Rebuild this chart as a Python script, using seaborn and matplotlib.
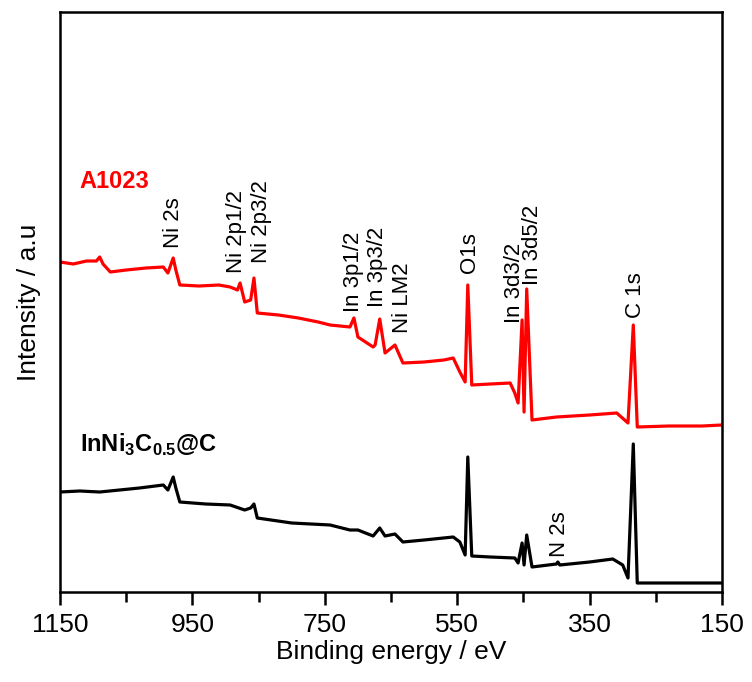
import matplotlib
matplotlib.use("Agg")
import matplotlib.pyplot as plt
import pandas as pd
import seaborn as sns
from matplotlib.ticker import FixedLocator

# survey spectra (binding energy in eV, intensity in arbitrary units)
red_energy = [1150, 1130, 1110, 1095, 1090, 1085, 1074, 1050, 1020, 994, 987, 979, 975, 969,
              940, 910, 893, 882, 878, 871, 862, 857, 852, 820, 790, 760, 742, 712, 706,
              700, 677, 674, 667, 659, 644, 632, 600, 570, 556, 546, 538, 534, 528, 500,
              470, 463, 458, 452, 449, 445, 437, 400, 350, 309, 292, 284, 278, 230, 180, 150]
red_intensity = [338, 336, 339, 339, 343, 336, 328, 330, 332, 333, 327, 342, 330, 315,
                 314, 315, 313, 310, 317, 298, 300, 322, 287, 285, 282, 278, 275, 273, 282,
                 263, 253, 255, 281, 247, 255, 237, 238, 240, 242, 228, 218, 315, 215, 216,
                 217, 207, 197, 280, 188, 311, 180, 183, 185, 187, 177, 275, 173, 174, 174, 175]

black_energy = [1150, 1120, 1090, 1060, 1030, 994, 987, 979, 975, 969, 930, 893, 871, 862,
                857, 852, 800, 742, 712, 700, 677, 667, 659, 644, 632, 600, 556, 546, 538,
                534, 528, 500, 463, 458, 452, 449, 445, 437, 400, 398, 395, 350, 315, 300,
                292, 284, 278, 220, 150]
black_intensity = [108, 109, 108, 110, 112, 115, 110, 123, 112, 98, 96, 95, 90, 92,
                   96, 82, 77, 75, 70, 70, 64, 72, 64, 66, 58, 60, 63, 58, 45,
                   143, 44, 43, 42, 37, 57, 35, 65, 33, 36, 38, 35, 38, 41, 35,
                   22, 156, 17, 17, 17]

# peak assignments: label, energy, height of label foot
peak_labels = ["Ni 2s", "Ni 2p1/2", "Ni 2p3/2", "In 3p1/2", "In 3p3/2", "Ni LM2",
               "O1s", "In 3d3/2", "In 3d5/2", "C 1s", "N 2s"]
peak_energy = [979, 883, 845, 707, 670, 633, 531, 463, 436, 281, 395]
peak_height = [352, 327, 337, 288, 293, 267, 327, 277, 315, 282, 43]

major_ticks = [1150, 950, 750, 550, 350, 150]
minor_ticks = [1050, 850, 650, 450, 250]

red_df = pd.DataFrame({"Binding energy": red_energy, "Intensity": red_intensity})
black_df = pd.DataFrame({"Binding energy": black_energy, "Intensity": black_intensity})

sns.set_style("ticks")
plt.rcParams["font.family"] = ["Liberation Sans", "DejaVu Sans"]
plt.rcParams["mathtext.fontset"] = "custom"
plt.rcParams["mathtext.bf"] = "Liberation Sans:bold"
plt.rcParams["mathtext.rm"] = "Liberation Sans"
plt.rcParams["text.color"] = "black"
plt.rcParams["axes.labelcolor"] = "black"
plt.rcParams["axes.edgecolor"] = "black"
plt.rcParams["xtick.color"] = "black"

fig = plt.figure(figsize=(7.52, 6.82), dpi=100)
ax = fig.add_axes([60 / 752, 90 / 682, 662 / 752, 580 / 682])

sns.lineplot(x="Binding energy", y="Intensity", data=red_df, color="#ff0000",
             linewidth=2.3, estimator=None, sort=False, ax=ax)
sns.lineplot(x="Binding energy", y="Intensity", data=black_df, color="black",
             linewidth=2.3, estimator=None, sort=False, ax=ax)

for label, e, h in zip(peak_labels, peak_energy, peak_height):
    ax.text(e, h, label, rotation=90, ha="center", va="bottom", fontsize=16)

ax.text(1120, 412, "A1023", color="#ff0000", fontsize=17, fontweight="bold",
        va="baseline")
ax.text(1120, 148, r"InNi$_\mathbf{3}$C$_\mathbf{0.5}$@C", color="black",
        fontsize=17, fontweight="bold", va="baseline")

ax.set_xlim(1150, 150)
ax.set_ylim(8, 588)
ax.set_xticks(major_ticks)
ax.xaxis.set_minor_locator(FixedLocator(minor_ticks))
ax.set_yticks([])
ax.tick_params(axis="x", which="major", direction="out", length=9, width=1.8,
               labelsize=19, pad=6)
ax.tick_params(axis="x", which="minor", direction="out", length=7, width=1.8)
for s in ax.spines.values():
    s.set_linewidth(1.8)

ax.set_xlabel("Binding energy / eV", fontsize=19, labelpad=2)
ax.set_ylabel("Intensity / a.u", fontsize=19, labelpad=14)

plt.savefig("out.png", dpi=100)
